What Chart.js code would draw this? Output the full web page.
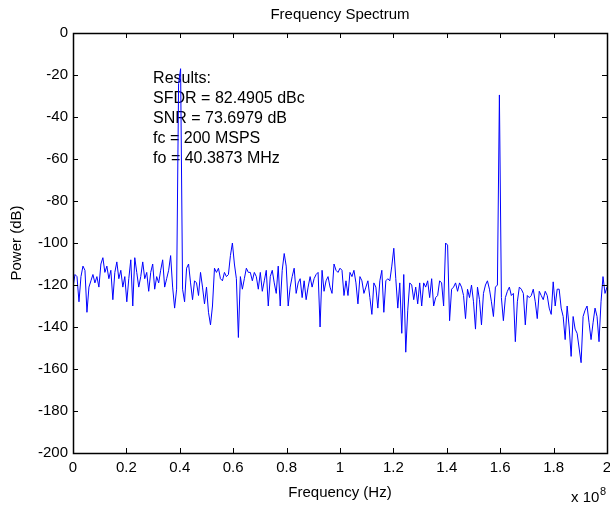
<!doctype html>
<html>
<head>
<meta charset="UTF-8">
<title>Frequency Spectrum</title>
<script src="https://cdn.jsdelivr.net/npm/chart.js"></script>
<style>
  html, body { margin: 0; padding: 0; background: #fff; overflow: hidden; }
  #wrap { width: 610px; height: 505px; }
  canvas { display: block; }
</style>
</head>
<body>
<div id="wrap"><canvas id="chart" width="610" height="505"></canvas></div>
<script>
// spectrum (dB), evenly spaced bins from 0 to 2e8 Hz
const power = [
  -121, -115, -116, -128, -116, -111, -113, -133, -121, -118,
  -115, -119, -116, -121, -110, -107, -114, -111, -117, -113,
  -127, -114, -109, -117, -113, -121, -116, -128, -117, -108,
  -130, -107, -114, -121, -116, -109, -117, -114, -123, -114,
  -110, -122, -116, -119, -113, -108, -121, -117, -113, -106,
  -121, -131, -122, -24, -17, -122, -128, -112, -110, -119,
  -127, -118, -119, -125, -114, -121, -129, -121, -133, -139,
  -130, -112, -114, -112, -117, -118, -114, -116, -115, -106,
  -100, -110, -117, -145, -116, -122, -117, -112, -114, -114,
  -118, -114, -116, -122, -114, -123, -118, -113, -130, -116,
  -113, -119, -124, -111, -130, -113, -105, -111, -130, -121,
  -116, -112, -124, -119, -117, -126, -118, -127, -121, -116,
  -121, -117, -115, -114, -140, -113, -123, -118, -116, -121,
  -124, -110, -113, -114, -112, -113, -125, -118, -125, -114,
  -116, -113, -119, -129, -116, -118, -124, -121, -118, -126,
  -134, -119, -121, -131, -118, -113, -133, -118, -117, -118,
  -111, -102.5, -117, -131, -119, -143, -115, -152, -132, -119,
  -120, -127, -121, -129, -119, -130, -119, -121, -118, -126,
  -117, -130, -126, -125, -118, -119, -130, -100, -101, -137,
  -122, -121, -119, -123, -119, -121, -125, -136, -122, -126,
  -120, -128, -141, -121, -127, -139, -124, -120, -118, -122,
  -128, -135, -121, -120, -29.5, -126, -137, -126, -123, -121,
  -125, -124, -147, -128, -121, -122, -124, -139, -125, -126,
  -125, -122, -128, -136, -123, -125, -127, -123, -125, -131,
  -134, -118.5, -130, -122, -122, -131, -135, -146, -130, -140,
  -154, -135, -141, -143, -150, -157, -135, -132, -130, -138,
  -146, -138, -131, -135, -147, -128, -116, -124, -121
];
const freqMax = 2e8;
const xTicks = [0, 0.2, 0.4, 0.6, 0.8, 1, 1.2, 1.4, 1.6, 1.8, 2];
const yTicks = [0, -20, -40, -60, -80, -100, -120, -140, -160, -180, -200];
const resultLines = [
  "Results:",
  "SFDR = 82.4905 dBc",
  "SNR = 73.6979 dB",
  "fc = 200 MSPS",
  "fo = 40.3873 MHz"
];

const step = freqMax / (power.length - 1);
const points = power.map((p, i) => ({ x: i * step, y: p }));

const FONT = "'Liberation Sans', Arial, Helvetica, sans-serif";

// MATLAB style box with inward ticks, plus text annotations
const matlabAxes = {
  id: "matlabAxes",
  beforeDatasetsDraw(chart) {
    const { ctx, scales } = chart;
    ctx.save();
    ctx.fillStyle = "#000";
    ctx.font = "16px " + FONT;
    ctx.textAlign = "left";
    ctx.textBaseline = "middle";
    const tx = scales.x.getPixelForValue(3e7);
    const ty = scales.y.getPixelForValue(-21.5);
    resultLines.forEach((line, i) => ctx.fillText(line, tx, ty + i * 20));
    ctx.restore();
  },
  afterDraw(chart) {
    const { ctx, chartArea: a, scales } = chart;
    ctx.save();
    ctx.strokeStyle = "#000";
    ctx.lineWidth = 1;
    ctx.beginPath();
    xTicks.forEach((t) => {
      const px = Math.round(scales.x.getPixelForValue(t * 1e8)) + 0.5;
      ctx.moveTo(px, a.bottom); ctx.lineTo(px, a.bottom - 5);
      ctx.moveTo(px, a.top); ctx.lineTo(px, a.top + 5);
    });
    yTicks.forEach((t) => {
      const py = Math.round(scales.y.getPixelForValue(t)) + 0.5;
      ctx.moveTo(a.left, py); ctx.lineTo(a.left + 5, py);
      ctx.moveTo(a.right, py); ctx.lineTo(a.right - 5, py);
    });
    ctx.stroke();
    ctx.lineWidth = 1.5;
    ctx.strokeRect(Math.round(a.left) + 0.5, Math.round(a.top) + 0.5,
      Math.round(a.right - a.left), Math.round(a.bottom - a.top));

    // exponent label
    ctx.fillStyle = "#000";
    ctx.textAlign = "left";
    ctx.textBaseline = "alphabetic";
    ctx.font = "15px " + FONT;
    ctx.fillText("x 10", a.right - 36, a.bottom + 49);
    ctx.font = "11px " + FONT;
    ctx.fillText("8", a.right - 7, a.bottom + 42);
    ctx.restore();
  }
};

new Chart("chart", {
  type: "line",
  data: {
    datasets: [{
      data: points,
      borderColor: "#0000ff",
      borderWidth: 1,
      pointRadius: 0,
      tension: 0,
      fill: false
    }]
  },
  options: {
    responsive: false,
    animation: false,
    devicePixelRatio: 1,
    layout: { autoPadding: false, padding: { left: 0, right: 3, top: 0, bottom: 0 } },
    plugins: {
      legend: { display: false },
      tooltip: { enabled: false },
      title: {
        display: true,
        text: "Frequency Spectrum",
        fullSize: false,
        color: "#000",
        font: { family: FONT, size: 15, weight: "normal" },
        padding: { top: 6, bottom: 9 }
      }
    },
    scales: {
      x: {
        type: "linear",
        min: 0,
        max: freqMax,
        afterFit: (s) => { s.height = 52; s.paddingLeft = 0; s.paddingRight = 0; },
        afterBuildTicks: (s) => { s.ticks = xTicks.map((v) => ({ value: v * 1e8 })); },
        grid: { display: false, drawTicks: false },
        border: { display: false },
        ticks: {
          color: "#000",
          padding: 6,
          maxRotation: 0,
          autoSkip: false,
          font: { family: FONT, size: 15 },
          callback: (v) => String(Math.round(v / 1e7) / 10)
        },
        title: {
          display: true,
          text: "Frequency (Hz)",
          color: "#000",
          font: { family: FONT, size: 15 },
          padding: { top: 0, bottom: 3 }
        }
      },
      y: {
        min: -200,
        max: 0,
        afterFit: (s) => { s.width = 73; s.paddingTop = 0; s.paddingBottom = 0; },
        afterBuildTicks: (s) => { s.ticks = yTicks.map((v) => ({ value: v })); },
        grid: { display: false, drawTicks: false },
        border: { display: false },
        ticks: {
          color: "#000",
          padding: 5,
          autoSkip: false,
          font: { family: FONT, size: 15 }
        },
        title: {
          display: true,
          text: "Power (dB)",
          color: "#000",
          font: { family: FONT, size: 15 },
          padding: { top: 8, bottom: 0 }
        }
      }
    }
  },
  plugins: [matlabAxes]
});
</script>
</body>
</html>
